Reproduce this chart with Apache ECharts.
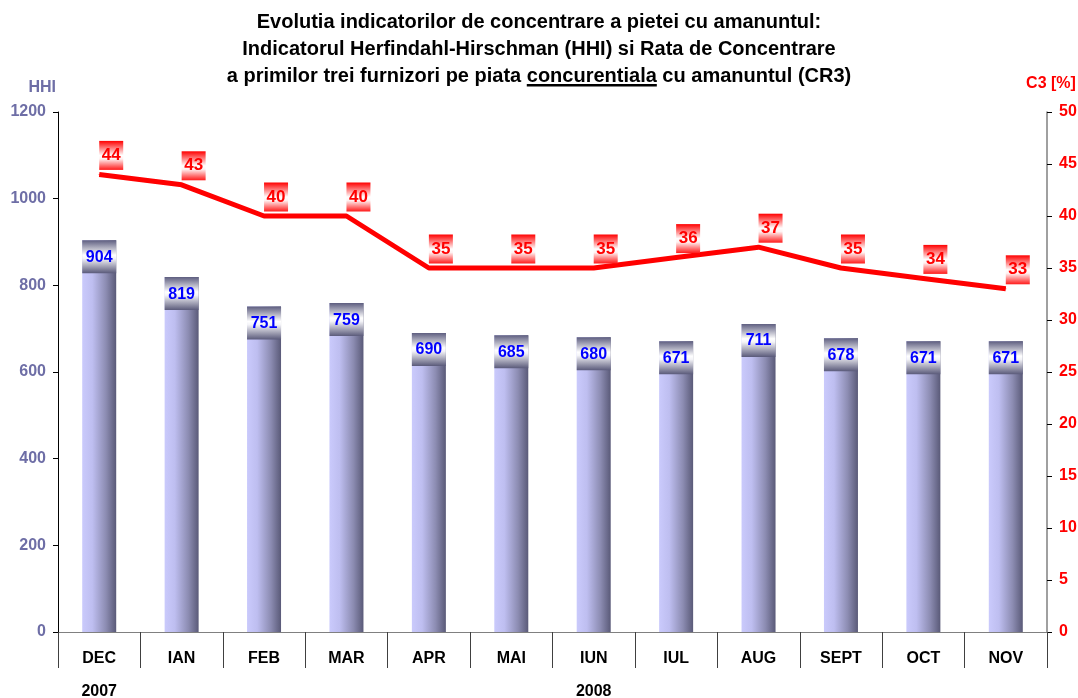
<!DOCTYPE html>
<html>
    <head>
        <title>HHI si CR3</title>
        <meta charset="UTF-8">
        <script type="text/javascript" src="https://cdn.jsdelivr.net/npm/echarts@6/dist/echarts.min.js"></script>
        <style>
            html, body { margin: 0; padding: 0; background: #fff; }
            #container { width: 1078px; height: 698px; }
        </style>
    </head>
    <body>
        <div id="container"></div>
        <script type="text/javascript">
            // luni (axa de jos) si ani (randul de sub luni)
            var months = ['DEC', 'IAN', 'FEB', 'MAR', 'APR', 'MAI', 'IUN', 'IUL', 'AUG', 'SEPT', 'OCT', 'NOV'];
            var years = ['2007', '2008'];
            var yearMonths = [1, 11]; // cate luni are fiecare an pe axa

            // valori
            var hhi = [904, 819, 751, 759, 690, 685, 680, 671, 711, 678, 671, 671];
            var cr3 = [44, 43, 40, 40, 35, 35, 35, 36, 37, 35, 34, 33];

            var hhiTicks = [0, 200, 400, 600, 800, 1000, 1200];
            var cr3Ticks = [0, 5, 10, 15, 20, 25, 30, 35, 40, 45, 50];

            // limitele si mijloacele anilor, in unitati de luna
            var yearBounds = [0];
            var yearCenters = [];
            for (var i = 0; i < yearMonths.length; i++) {
                var start = yearBounds[yearBounds.length - 1];
                yearCenters.push(start + yearMonths[i] / 2);
                yearBounds.push(start + yearMonths[i]);
            }

            var font = "'Liberation Sans', Arial, sans-serif";
            var axisBlue = '#6e6ea6';

            var myChart = echarts.init(document.getElementById('container'));
            var option = {
                animation: false,
                backgroundColor: '#fff',
                textStyle: { fontFamily: font },
                title: {
                    left: 'center',
                    top: 4,
                    text: 'Evolutia indicatorilor de concentrare a pietei cu amanuntul:\n' +
                          'Indicatorul Herfindahl-Hirschman (HHI) si Rata de Concentrare\n' +
                          'a primilor trei furnizori pe piata {u|concurentiala} cu amanuntul (CR3)',
                    textStyle: {
                        fontFamily: font,
                        fontSize: 20,
                        fontWeight: 'bold',
                        color: '#000',
                        lineHeight: 27,
                        rich: {
                            u: {
                                fontFamily: font,
                                fontSize: 20,
                                fontWeight: 'bold',
                                color: '#000',
                                lineHeight: 21,
                                backgroundColor: new echarts.graphic.LinearGradient(0, 0, 0, 1, [
                                    { offset: 0, color: 'rgba(0,0,0,0)' },
                                    { offset: 0.89, color: 'rgba(0,0,0,0)' },
                                    { offset: 0.89, color: '#000' },
                                    { offset: 1, color: '#000' }
                                ])
                            }
                        }
                    }
                },
                grid: { left: 58, right: 31, top: 112, bottom: 66, containLabel: false, outerBoundsMode: 'none' },
                xAxis: [{
                        type: 'category',
                        data: months,
                        boundaryGap: true,
                        axisLine: { show: true, lineStyle: { color: '#808080', width: 1 } },
                        axisTick: { show: true, interval: 0, length: 36, lineStyle: { color: '#404040', width: 1 } },
                        axisLabel: { interval: 0, margin: 19, color: '#000', fontSize: 16, fontWeight: 'bold', fontFamily: font },
                        splitLine: { show: false }
                    }, {
                        type: 'value',
                        position: 'bottom',
                        offset: 36,
                        min: 0,
                        max: months.length,
                        axisLine: { show: false },
                        splitLine: { show: false },
                        axisTick: { show: true, length: 30, customValues: yearBounds, lineStyle: { color: '#404040', width: 1 } },
                        axisLabel: {
                            customValues: yearCenters,
                            margin: 16,
                            color: '#000',
                            fontSize: 16,
                            fontWeight: 'bold',
                            fontFamily: font,
                            formatter: function (v) {
                                var idx = yearCenters.indexOf(v);
                                return idx >= 0 ? years[idx] : '';
                            }
                        }
                    }],
                yAxis: [{
                        type: 'value',
                        position: 'left',
                        min: hhiTicks[0],
                        max: hhiTicks[hhiTicks.length - 1],
                        interval: hhiTicks[1] - hhiTicks[0],
                        name: 'HHI',
                        nameLocation: 'end',
                        nameGap: 16,
                        nameTextStyle: { color: axisBlue, fontSize: 16, fontWeight: 'bold', fontFamily: font, align: 'right', padding: [0, 2, 0, 0] },
                        axisLine: { show: true, lineStyle: { color: '#000', width: 1 } },
                        axisTick: { show: true, length: 5, lineStyle: { color: '#000' } },
                        axisLabel: {
                            color: axisBlue, fontSize: 16, fontWeight: 'bold', fontFamily: font, margin: 12,
                            formatter: function (v) { return String(v); }
                        },
                        splitLine: { show: false }
                    }, {
                        type: 'value',
                        position: 'right',
                        min: cr3Ticks[0],
                        max: cr3Ticks[cr3Ticks.length - 1],
                        interval: cr3Ticks[1] - cr3Ticks[0],
                        name: 'C3 [%]',
                        nameLocation: 'end',
                        nameGap: 20,
                        nameTextStyle: { color: '#ff0000', fontSize: 16, fontWeight: 'bold', fontFamily: font, padding: [0, 0, 0, 8] },
                        axisLine: { show: true, lineStyle: { color: '#808080', width: 1.5 } },
                        axisTick: { show: true, length: 5, lineStyle: { color: '#000' } },
                        axisLabel: { color: '#ff0000', fontSize: 16, fontWeight: 'bold', fontFamily: font, margin: 12 },
                        splitLine: { show: false }
                    }],
                series: [{
                        name: 'HHI',
                        type: 'bar',
                        xAxisIndex: 0,
                        yAxisIndex: 0,
                        data: hhi,
                        barWidth: 34,
                        itemStyle: {
                            color: new echarts.graphic.LinearGradient(0, 0, 1, 0, [
                                { offset: 0, color: '#cacafc' },
                                { offset: 0.3, color: '#bebef0' },
                                { offset: 0.7, color: '#8c8cb2' },
                                { offset: 1, color: '#5a5a78' }
                            ])
                        },
                        label: {
                            show: true,
                            position: 'insideTop',
                            distance: 0,
                            width: 34,
                            align: 'center',
                            padding: [9, 0, 8, 0],
                            lineHeight: 16,
                            color: '#0000ff',
                            fontSize: 16,
                            fontWeight: 'bold',
                            fontFamily: font,
                            backgroundColor: new echarts.graphic.LinearGradient(0, 0, 0, 1, [
                                { offset: 0, color: '#5e5e80' },
                                { offset: 0.45, color: '#ffffff' },
                                { offset: 0.55, color: '#f4f4f8' },
                                { offset: 1, color: '#5a5a7a' }
                            ])
                        }
                    }, {
                        name: 'CR3',
                        type: 'line',
                        xAxisIndex: 0,
                        yAxisIndex: 1,
                        data: cr3,
                        symbol: 'circle',
                        symbolSize: 1,
                        showSymbol: true,
                        lineStyle: { color: '#ff0000', width: 5 },
                        itemStyle: { color: '#ff0000' },
                        z: 3,
                        label: {
                            show: true,
                            position: 'top',
                            distance: 4,
                            offset: [12, 0],
                            width: 24,
                            align: 'center',
                            padding: [6, 0, 6, 0],
                            lineHeight: 17,
                            color: '#ff0000',
                            fontSize: 17,
                            fontWeight: 'bold',
                            fontFamily: font,
                            backgroundColor: new echarts.graphic.LinearGradient(0, 0, 0, 1, [
                                { offset: 0, color: '#ff0000' },
                                { offset: 0.5, color: '#ffffff' },
                                { offset: 0.62, color: '#fff2f2' },
                                { offset: 1, color: '#ff1a1a' }
                            ])
                        }
                    }]
            };
            myChart.setOption(option);
        </script>
    </body>
</html>
